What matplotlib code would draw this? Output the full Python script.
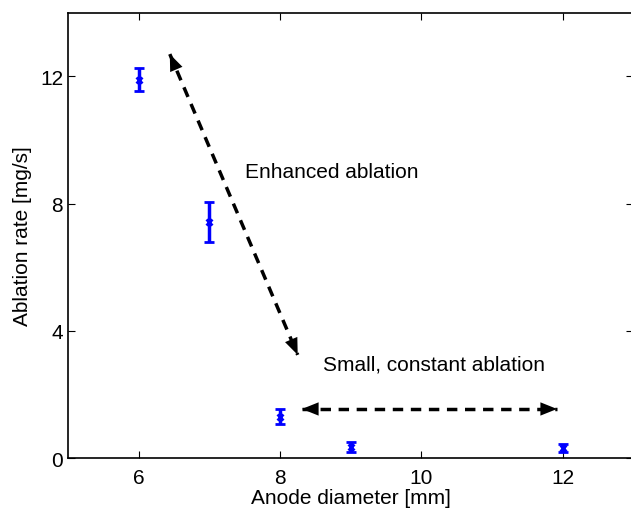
import matplotlib.pyplot as plt

plt.rcParams['font.family'] = ['Liberation Sans', 'DejaVu Sans']

# data
diameter = [6, 7, 8, 9, 12]
rate = [11.9, 7.42, 1.31, 0.36, 0.33]
rate_err = [0.35, 0.63, 0.24, 0.15, 0.13]

xticks = [6, 8, 10, 12]
yticks = [0, 4, 8, 12]

fig = plt.figure(figsize=(6.31, 5.10), dpi=100)
ax = fig.add_axes([0.1078, 0.0994, 0.896, 0.8737])

ax.errorbar(diameter, rate, yerr=rate_err, fmt='x', color='#0000ff',
            ecolor='#0000ff', elinewidth=2.5, capsize=3.5, capthick=2.5,
            markersize=4, markeredgewidth=2)


def dashed_arrow(p0, p1):
    ax.plot([p0[0], p1[0]], [p0[1], p1[1]], color='k', lw=2.5,
            linestyle=(0, (3, 2.2)), zorder=3)
    for a, b in ((p0, p1), (p1, p0)):
        ax.annotate('', xy=a, xytext=(a[0] + 0.05 * (b[0] - a[0]),
                                      a[1] + 0.05 * (b[1] - a[1])),
                    arrowprops=dict(arrowstyle='-|>,head_length=1.0,head_width=0.4',
                                    color='k', lw=0,
                                    mutation_scale=12, shrinkA=0, shrinkB=0))


dashed_arrow((6.44, 12.7), (8.25, 3.25))
dashed_arrow((8.31, 1.55), (11.92, 1.55))

ax.text(7.50, 9.0, 'Enhanced ablation', fontsize=15, va='center', ha='left')
ax.text(8.61, 2.96, 'Small, constant ablation', fontsize=15, va='center', ha='left')

ax.set_xlim(5, 13)
ax.set_ylim(0, 14)
ax.set_xticks(xticks)
ax.set_yticks(yticks)
ax.tick_params(direction='in', top=True, right=True, labelsize=15, length=5)
ax.tick_params(axis='x', pad=7)
ax.set_xlabel('Anode diameter [mm]', fontsize=15, labelpad=1)
ax.set_ylabel('Ablation rate [mg/s]', fontsize=15, labelpad=6)
for s in ax.spines.values():
    s.set_linewidth(1.2)

fig.savefig('out.png', dpi=100)
